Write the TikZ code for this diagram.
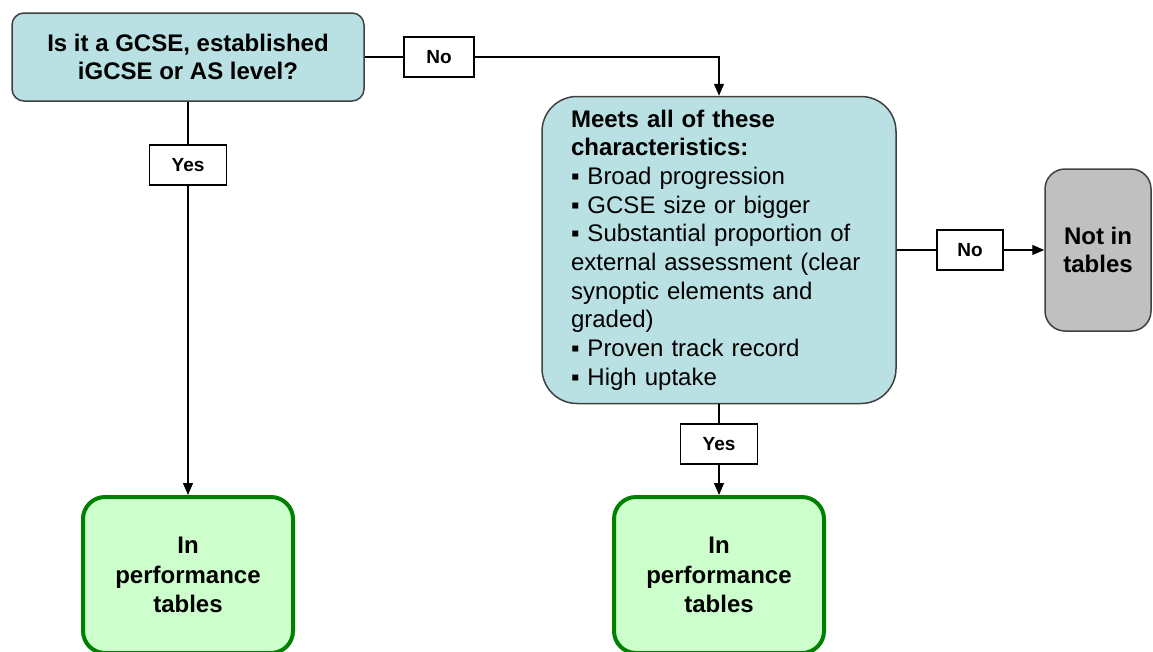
\documentclass[tikz,border=0pt]{standalone}
\usepackage{fontspec}
\setmainfont{Liberation Sans}
\usepackage{xcolor}
\usetikzlibrary{arrows.meta}
\definecolor{qblue}{RGB}{185,224,227}
\definecolor{qline}{RGB}{64,64,64}
\definecolor{ngray}{RGB}{192,192,192}
\definecolor{gfill}{RGB}{204,255,204}
\definecolor{gline}{RGB}{0,128,0}
\begin{document}
\begin{tikzpicture}[x=1pt, y=-1pt, >={Triangle[width=10pt,length=12pt]}, line width=1.2pt,
    qbox/.style={draw=qline, fill=qblue, line width=1.5pt, inner sep=0pt,
      font=\fontsize{24}{28.7}\selectfont},
    nbox/.style={draw=qline, fill=ngray, line width=1.5pt, inner sep=0pt, rounded corners=20pt,
      align=center, font=\fontsize{24}{28.7}\selectfont\bfseries},
    gbox/.style={draw=gline, fill=gfill, line width=4pt, inner sep=0pt, rounded corners=22pt,
      minimum width=210, minimum height=156, align=center,
      font=\fontsize{24}{29.5}\selectfont\bfseries},
    lbl/.style={draw, fill=white, line width=1.5pt, minimum height=40, inner sep=0pt,
      font=\fontsize{19}{22}\selectfont\bfseries}]
  \useasboundingbox (0,0) rectangle (1153,651);
  % decision boxes
  \node[qbox, rounded corners=12pt, minimum width=352, minimum height=88, align=center,
    font=\fontsize{24}{28}\selectfont\bfseries] (gcse) at (188,57)
    {Is it a GCSE, established\\iGCSE or AS level?};
  \node[qbox, rounded corners=35pt, minimum width=354, minimum height=307,
    text width=296pt, align=left] (meets) at (719,250)
    {\textbf{Meets all of these}\\
     \textbf{characteristics:}\\
     ▪ Broad progression\\
     ▪ GCSE size or bigger\\
     ▪ Substantial proportion of\\
     external assessment (clear\\
     synoptic elements and\\
     graded)\\
     ▪ Proven track record\\
     ▪ High uptake};
  % outcomes
  \node[nbox, minimum width=106, minimum height=162] (notin) at (1098,250) {Not in\\tables};
  \node[gbox] (intab1) at (188,575) {In\\performance\\tables};
  \node[gbox] (intab2) at (719,575) {In\\performance\\tables};
  % answer labels
  \node[lbl, minimum width=70] (no1) at (439,57) {No};
  \node[lbl, minimum width=77] (yes1) at (188,165) {Yes};
  \node[lbl, minimum width=66] (no2) at (970,250) {No};
  \node[lbl, minimum width=77] (yes2) at (719,444) {Yes};
  % connectors
  \draw (gcse.east) -- (no1.west);
  \draw[->] (no1.east) -| (meets.north);
  \draw (gcse.south) -- (yes1.north);
  \draw[->] (yes1.south) -- (intab1.north);
  \draw (meets.east) -- (no2.west);
  \draw[->] (no2.east) -- (notin.west);
  \draw (meets.south) -- (yes2.north);
  \draw[->] (yes2.south) -- (intab2.north);
\end{tikzpicture}
\end{document}
